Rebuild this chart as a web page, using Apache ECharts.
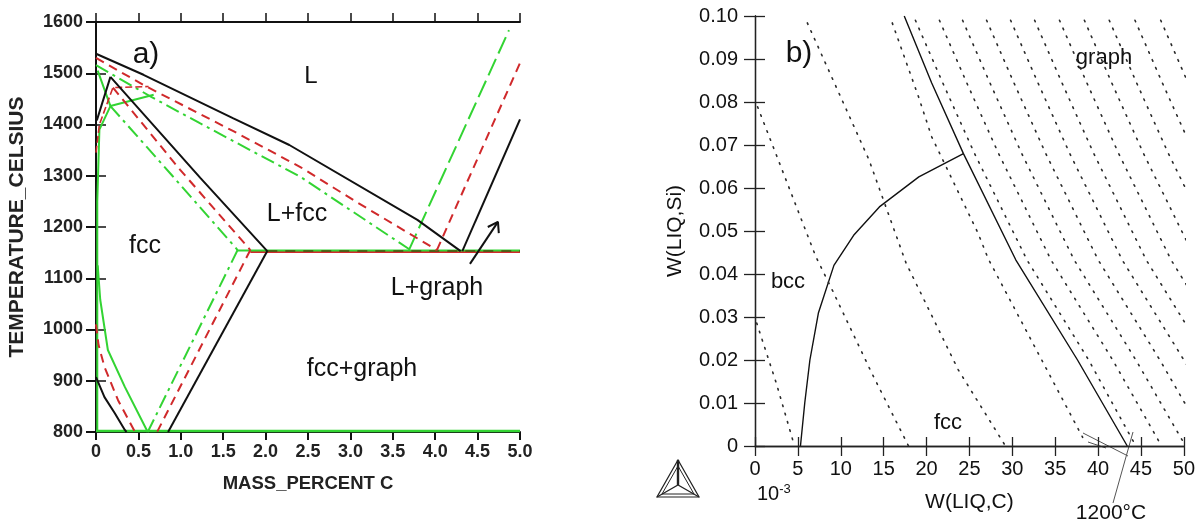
<!DOCTYPE html>
<html>
<head>
<meta charset="utf-8">
<script src="https://cdn.jsdelivr.net/npm/echarts@6/dist/echarts.min.js"></script>
<style>
html, body { margin: 0; padding: 0; background: #fff; }
#chart { width: 1198px; height: 528px; }
</style>
</head>
<body>
<div id="chart"></div>
<script>
// ---- a) isopleths, mass percent C vs temperature ----
var blackLiquidus = [[0, 1538], [0.56, 1497], [1.62, 1412], [2.28, 1360], [3.79, 1214], [4.30, 1153]]
var blackDelta = [[0.01, 1408], [0.17, 1493]]
var blackSolidus = [[0.17, 1493], [1.23, 1296], [2.02, 1153]]
var blackSolvus = [[2.02, 1153], [0.85, 800]]
var blackFerrite = [[0, 907], [0.1, 868], [0.22, 837], [0.34, 804], [0.36, 800]]
var blackGraphite = [[4.32, 1153], [5.0, 1410]]
var blackEutectic = [[2.02, 1153], [5.0, 1153]]
var arrowShaft = [[4.41, 1128], [4.74, 1210]]
var arrowHead = [[4.62, 1200], [4.74, 1210], [4.75, 1188]]

var redLiquidus = [[0, 1530], [0.56, 1477], [1.62, 1387], [2.41, 1317], [3.08, 1248], [4.02, 1155]]
var redDelta = [[0, 1345], [0.04, 1400], [0.2, 1472], [0.62, 1474]]
var redSolidus = [[0.2, 1472], [0.99, 1312], [1.82, 1155]]
var redSolvus = [[1.82, 1155], [0.72, 800]]
var redFerrite = [[0, 1010], [0.03, 970], [0.1, 927], [0.26, 862], [0.46, 800]]
var redGraphite = [[4.02, 1155], [5.0, 1520]]
var redEutectic = [[1.82, 1151], [5.0, 1151]]

var greenLiquidus = [[0, 1516], [0.64, 1455], [1.23, 1402], [2.41, 1298], [3.69, 1157]]
var greenDelta = [[0.02, 1505], [0.17, 1436], [0.68, 1458]]
var greenSolidus = [[0.17, 1436], [0.9, 1300], [1.67, 1155]]
var greenSolvus = [[1.67, 1155], [0.61, 800]]
var greenFerrite = [[0.02, 1125], [0.05, 1058], [0.14, 960], [0.34, 888], [0.61, 800]]
var greenEdge = [[0.17, 1436], [0.04, 1390], [0.015, 1250], [0.015, 800]]
var greenGraphite = [[3.69, 1155], [4.87, 1584]]
var greenEutectic = [[1.67, 1154], [5.0, 1154]]
var greenBottom = [[0, 802], [5.0, 802]]

// ---- b) W(LIQ,C) (x 10^-3) vs W(LIQ,Si) ----
var graphBoundary = [[17.4, 0.1], [20.6, 0.0844], [24.3, 0.068], [30.4, 0.0433], [37.6, 0.020], [43.4, 0]]
var bccBoundary = [[5.3, 0], [5.8, 0.01], [6.4, 0.02], [7.4, 0.031], [9.2, 0.042], [11.5, 0.049], [14.5, 0.0556], [19.1, 0.0626], [24.3, 0.068]]

var isotherms = [
  [[0.2, 0.0286], [2.5, 0.0145], [4.6, 0]],
  [[0.3, 0.0789], [7.1, 0.044], [9.0, 0.0363], [13.6, 0.017], [17.9, 0]],
  [[6.1, 0.0984], [13.3, 0.0665], [17.6, 0.0426], [23.7, 0.0177], [29.2, 0]],
  [[16.0, 0.0984], [19.1, 0.081], [20.6, 0.0719], [26.0, 0.0495], [27.2, 0.0435], [38.2, 0.002]],
  [[18.7, 0.099], [21.9, 0.0844], [25.6, 0.068], [31.7, 0.0433], [38.9, 0.02], [44.4, 0]],
  [[21.5, 0.099], [24.7, 0.0844], [28.4, 0.068], [34.5, 0.0433], [41.7, 0.02], [47.4, 0]],
  [[24.2, 0.099], [27.4, 0.0844], [31.1, 0.068], [37.2, 0.0433], [44.4, 0.02], [50.2, 0]],
  [[27.0, 0.099], [30.2, 0.0844], [33.9, 0.068], [40.0, 0.0433], [47.2, 0.02], [53.0, 0]],
  [[29.8, 0.099], [33.0, 0.0844], [36.7, 0.068], [42.8, 0.0433], [50.0, 0.02], [53.0, 0.01]],
  [[32.6, 0.099], [35.8, 0.0844], [39.5, 0.068], [45.6, 0.0433], [52.8, 0.02]],
  [[35.5, 0.099], [38.7, 0.0844], [42.4, 0.068], [48.5, 0.0433], [55.7, 0.02]],
  [[38.4, 0.099], [41.6, 0.0844], [45.3, 0.068], [51.4, 0.0433]],
  [[41.3, 0.099], [44.5, 0.0844], [48.2, 0.068], [54.3, 0.0433]],
  [[44.3, 0.099], [47.5, 0.0844], [51.2, 0.068]],
  [[47.3, 0.099], [50.5, 0.0844]]
]

var FONT = "'Liberation Sans', Arial, sans-serif"
var BLACK = '#111'
var RED = '#d0292b'
var GREEN = '#33d433'

function line(data, color, type, width, side) {
  var idx = side === 'b' ? 2 : 0
  return {
    type: 'line',
    data: data,
    xAxisIndex: idx,
    yAxisIndex: idx,
    symbol: 'none',
    silent: true,
    clip: true,
    lineStyle: { color: color, type: type, width: width }
  }
}

var DASH = [9, 6]
var DASHDOT = [14, 5, 3, 5]
var LONGDASH = [18, 6]

var series = [
  line(greenBottom, GREEN, 'solid', 2.5),
  line(redEutectic, RED, 'solid', 2),
  line(greenEutectic, GREEN, 'solid', 2),
  line(blackEutectic, '#4a4a10', [10, 8], 1.5),
  line(greenLiquidus, GREEN, DASHDOT, 2),
  line(greenDelta, GREEN, 'solid', 2),
  line(greenSolidus, GREEN, DASHDOT, 2),
  line(greenSolvus, GREEN, DASHDOT, 2),
  line(greenFerrite, GREEN, 'solid', 2),
  line(greenEdge, GREEN, 'solid', 2),
  line(greenGraphite, GREEN, LONGDASH, 2),
  line(redLiquidus, RED, DASH, 2),
  line(redDelta, RED, [7, 3], 1.6),
  line(redSolidus, RED, DASH, 2),
  line(redSolvus, RED, DASH, 2),
  line(redFerrite, RED, DASH, 2),
  line(redGraphite, RED, DASH, 2),
  line(blackLiquidus, BLACK, 'solid', 2),
  line(blackDelta, BLACK, 'solid', 2),
  line(blackSolidus, BLACK, 'solid', 2),
  line(blackSolvus, BLACK, 'solid', 2),
  line(blackFerrite, BLACK, 'solid', 2),
  line(blackGraphite, BLACK, 'solid', 2),
  line(arrowShaft, BLACK, 'solid', 2),
  line(arrowHead, BLACK, 'solid', 2),
  line(graphBoundary, BLACK, 'solid', 1.4, 'b'),
  line(bccBoundary, BLACK, 'solid', 1.4, 'b')
]
for (var i = 0; i < isotherms.length; i++) {
  var s = line(isotherms[i], '#2a2a2a', [1.6, 7], 1.6, 'b')
  s.lineStyle.cap = 'round'
  series.push(s)
}

var leftLabel = { fontFamily: FONT, fontWeight: 'bold', fontSize: 18, color: '#222' }
var rightLabel = { fontFamily: FONT, fontSize: 20, color: '#111' }
var leftLine = { lineStyle: { color: '#111', width: 2 } }
var rightLine = { lineStyle: { color: '#222', width: 1.3 } }

function txt(x, y, text, size, extra) {
  var st = {
    text: text, font: (extra || '') + ' ' + size + 'px ' + FONT, fill: '#111',
    align: 'center', verticalAlign: 'middle', textAlign: 'center', textVerticalAlign: 'middle'
  }
  return { type: 'text', x: x, y: y, silent: true, style: st }
}

var chart = echarts.init(document.getElementById('chart'))
chart.setOption({
  animation: false,
  backgroundColor: '#fff',
  grid: [
    { left: 96, top: 22, width: 424, height: 410 },
    { left: 755, top: 16, width: 432, height: 430 }
  ],
  xAxis: [
    {
      gridIndex: 0, type: 'value', min: 0, max: 5, interval: 0.5, position: 'bottom',
      axisLine: leftLine, axisTick: { length: 8, lineStyle: { width: 2, color: '#111' } },
      splitLine: { show: false },
      axisLabel: Object.assign({ margin: 11, formatter: function (v) { return v === 0 ? '0' : v.toFixed(1) } }, leftLabel),
      name: 'MASS_PERCENT C', nameLocation: 'middle', nameGap: 42,
      nameTextStyle: { fontFamily: FONT, fontWeight: 'bold', fontSize: 18.5, color: '#222' }
    },
    {
      gridIndex: 0, type: 'value', min: 0, max: 5, interval: 0.5, position: 'top',
      axisLine: leftLine, axisTick: { length: 9, lineStyle: { width: 1.5, color: '#111' } },
      splitLine: { show: false }, axisLabel: { show: false }
    },
    {
      gridIndex: 1, type: 'value', min: 0, max: 50, interval: 5, position: 'bottom',
      axisLine: rightLine, axisTick: { length: 10, lineStyle: { width: 1.3, color: '#222' } },
      splitLine: { show: false },
      axisLabel: Object.assign({ margin: 13 }, rightLabel),
      name: 'W(LIQ,C)', nameLocation: 'middle', nameGap: 46,
      nameTextStyle: { fontFamily: FONT, fontSize: 21, color: '#111' }
    },
    {
      gridIndex: 1, type: 'value', min: 0, max: 50, interval: 5, position: 'top',
      axisLine: rightLine, axisTick: { length: 9, lineStyle: { width: 1.3, color: '#222' } },
      splitLine: { show: false }, axisLabel: { show: false }
    }
  ],
  yAxis: [
    {
      gridIndex: 0, type: 'value', min: 800, max: 1600, interval: 100, position: 'left',
      axisLine: leftLine, axisTick: { length: 10, lineStyle: { width: 2, color: '#111' } },
      splitLine: { show: false },
      axisLabel: Object.assign({ margin: 13, formatter: function (v) { return String(v) } }, leftLabel),
      name: 'TEMPERATURE_CELSIUS', nameLocation: 'middle', nameGap: 68, nameRotate: 90,
      nameTextStyle: { fontFamily: FONT, fontWeight: 'bold', fontSize: 21, color: '#222' }
    },
    {
      gridIndex: 0, type: 'value', min: 800, max: 1600, interval: 100, position: 'right',
      axisLine: leftLine, axisTick: { length: 10, lineStyle: { width: 1.5, color: '#111' } },
      splitLine: { show: false }, axisLabel: { show: false }
    },
    {
      gridIndex: 1, type: 'value', min: 0, max: 0.1, interval: 0.01, position: 'left',
      axisLine: rightLine, axisTick: { length: 11, lineStyle: { width: 1.3, color: '#222' } },
      splitLine: { show: false },
      axisLabel: Object.assign({ margin: 17, formatter: function (v) { return v === 0 ? '0' : v.toFixed(2) } }, rightLabel),
      name: 'W(LIQ,Si)', nameLocation: 'middle', nameGap: 69, nameRotate: 90,
      nameTextStyle: { fontFamily: FONT, fontSize: 21, color: '#111' }
    },
    {
      gridIndex: 1, type: 'value', min: 0, max: 0.1, interval: 0.01, position: 'right',
      axisLine: rightLine, axisTick: { length: 10, lineStyle: { width: 1.3, color: '#222' } },
      splitLine: { show: false }, axisLabel: { show: false }
    }
  ],
  series: series,
  graphic: [
    txt(146, 55, 'a)', 30),
    txt(311, 76, 'L', 24),
    txt(297, 214, 'L+fcc', 25),
    txt(145, 246, 'fcc', 25),
    txt(437, 288, 'L+graph', 25),
    txt(362, 369, 'fcc+graph', 25),
    txt(799, 54, 'b)', 30),
    txt(1104, 58, 'graph', 22),
    txt(788, 282, 'bcc', 22),
    txt(948, 423, 'fcc', 22),
    txt(1111, 513, '1200°C', 21),
    {
      type: 'text', x: 757, y: 494, silent: true,
      style: {
        text: '{n|10}{s|-3}', verticalAlign: 'middle', textVerticalAlign: 'middle',
        rich: {
          n: { font: '20px ' + FONT, fill: '#111' },
          s: { font: '13px ' + FONT, fill: '#111', verticalAlign: 'top', padding: [0, 0, 10, 0] }
        }
      }
    },
    { type: 'line', silent: true, shape: { x1: 1113, y1: 503, x2: 1133, y2: 432 }, style: { stroke: '#555', lineWidth: 1 } },
    { type: 'line', silent: true, shape: { x1: 1083, y1: 433, x2: 1128, y2: 456 }, style: { stroke: '#555', lineWidth: 1 } },
    { type: 'line', silent: true, shape: { x1: 1088, y1: 442, x2: 1106, y2: 448 }, style: { stroke: '#555', lineWidth: 1 } },
    // Thermo-Calc logo
    { type: 'polygon', silent: true, shape: { points: [[657, 497], [699, 497], [678, 460]] }, style: { fill: 'none', stroke: '#222', lineWidth: 1.2 } },
    { type: 'polygon', silent: true, shape: { points: [[662, 494], [694, 494], [678, 466]] }, style: { fill: 'none', stroke: '#222', lineWidth: 1 } },
    { type: 'polyline', silent: true, shape: { points: [[678, 460], [678, 485]] }, style: { stroke: '#222', lineWidth: 2.4 } },
    { type: 'polyline', silent: true, shape: { points: [[657, 497], [678, 485], [699, 497]] }, style: { fill: 'none', stroke: '#222', lineWidth: 1.2 } }
  ]
})
</script>
</body>
</html>
